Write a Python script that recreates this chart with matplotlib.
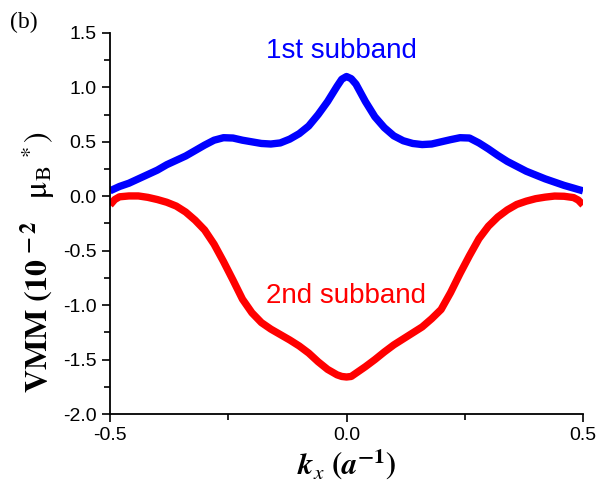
import numpy as np
import matplotlib.pyplot as plt

plt.rcParams['font.family'] = 'Liberation Sans'
plt.rcParams['mathtext.fontset'] = 'stix'

kx = [-0.50, -0.49, -0.48, -0.46, -0.44, -0.42, -0.40, -0.38, -0.36, -0.34,
      -0.32, -0.30, -0.28, -0.26, -0.24, -0.22, -0.20, -0.18, -0.16, -0.14,
      -0.12, -0.10, -0.08, -0.06, -0.04, -0.02, -0.01, 0.00, 0.01, 0.02,
      0.04, 0.06, 0.08, 0.10, 0.12, 0.14, 0.16, 0.18, 0.20, 0.22,
      0.24, 0.26, 0.28, 0.30, 0.32, 0.34, 0.36, 0.38, 0.40, 0.42,
      0.44, 0.46, 0.48, 0.49, 0.50]

# 1st subband VMM (10^-2 mu_B*)
vmm_1st = [0.05, 0.07, 0.09, 0.12, 0.16, 0.20, 0.24, 0.29, 0.33, 0.37,
           0.42, 0.47, 0.515, 0.538, 0.535, 0.515, 0.50, 0.485, 0.48, 0.49,
           0.525, 0.575, 0.645, 0.75, 0.87, 1.01, 1.075, 1.10, 1.08, 1.03,
           0.87, 0.73, 0.63, 0.555, 0.51, 0.485, 0.475, 0.48, 0.50, 0.52,
           0.538, 0.535, 0.49, 0.435, 0.375, 0.32, 0.275, 0.23, 0.195, 0.16,
           0.13, 0.10, 0.075, 0.062, 0.05]

# 2nd subband
vmm_2nd = [-0.08, -0.03, -0.005, 0.003, 0.003, -0.01, -0.03, -0.055, -0.09, -0.145,
           -0.22, -0.31, -0.44, -0.60, -0.77, -0.945, -1.07, -1.16, -1.22, -1.27,
           -1.32, -1.375, -1.44, -1.52, -1.59, -1.64, -1.655, -1.66, -1.655, -1.625,
           -1.565, -1.50, -1.43, -1.365, -1.31, -1.255, -1.20, -1.125, -1.04, -0.885,
           -0.71, -0.545, -0.39, -0.275, -0.19, -0.125, -0.075, -0.045, -0.022, -0.008,
           0.002, 0.0, -0.012, -0.035, -0.08]

fig = plt.figure(figsize=(6.16, 4.92), dpi=100)
ax = fig.add_axes([0.1786, 0.1585, 0.7678, 0.7745])

ax.plot(kx, vmm_1st, color='#0000ff', lw=5.3, solid_capstyle='butt', solid_joinstyle='round')
ax.plot(kx, vmm_2nd, color='#ff0000', lw=5.3, solid_capstyle='butt', solid_joinstyle='round')

ax.set_xlim(-0.5, 0.5)
ax.set_ylim(-2.0, 1.5)
ax.set_xticks([-0.5, 0.0, 0.5])
ax.set_xticks([-0.25, 0.25], minor=True)
ax.set_yticks(np.arange(-2.0, 1.51, 0.5))
ax.set_yticks(np.arange(-1.75, 1.5, 0.5), minor=True)
ax.set_xticklabels(['-0.5', '0.0', '0.5'])
ax.set_yticklabels(['%.1f' % v for v in np.arange(-2.0, 1.51, 0.5)])

for side in ['top', 'right']:
    ax.spines[side].set_visible(False)
for side in ['left', 'bottom']:
    ax.spines[side].set_linewidth(1.3)
ax.tick_params(which='major', direction='out', length=6, width=1.2, labelsize=14)
ax.tick_params(which='minor', direction='out', length=4, width=1.2)

ax.text(-0.01, 1.33, '1st subband', color='#0000ff', fontsize=20, ha='center', va='center')
ax.text(0.0, -0.92, '2nd subband', color='#ff0000', fontsize=20, ha='center', va='center')

ax.set_xlabel(r'$\mathbfit{k}_{x}\ \mathbf{(}\mathbfit{a}^{\mathbf{-1}}\mathbf{)}$', fontsize=22, labelpad=2)
ax.set_ylabel(r'$\mathbf{VMM\ (10}^{\ \mathbf{-\,2}}\ \ \ \mathrm{μ}_{\mathrm{B}}{}^{\,*}\mathrm{)}$', fontsize=23)
ax.yaxis.set_label_coords(-0.112, 0.40)

fig.text(0.016, 0.955, '(b)', fontsize=17, family='Liberation Serif', ha='left', va='center')

fig.savefig('out.png', dpi=100)
